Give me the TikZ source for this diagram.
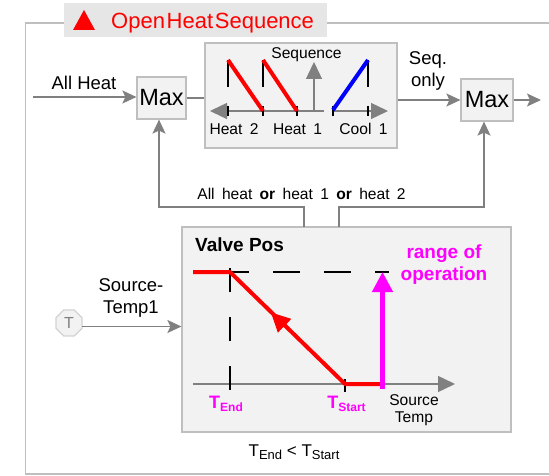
\documentclass[tikz,border=0pt]{standalone}
\usepackage{fontspec}
\setmainfont{Liberation Sans}
\usetikzlibrary{arrows.meta,shapes.geometric}
\definecolor{framegray}{HTML}{BFBFBF}
\definecolor{linegray}{HTML}{808080}
\definecolor{boxfill}{HTML}{F2F2F2}
\definecolor{titlefill}{HTML}{E6E6E6}
\definecolor{pink}{HTML}{FF00FF}
\newcommand{\fs}[1]{\fontsize{#1}{#1}\selectfont}
\tikzset{
  box/.style={rectangle,draw=framegray,fill=boxfill,line width=1.2pt,inner sep=0pt},
  maxbox/.style={box,minimum width=49pt,minimum height=42pt,font=\fs{23.5}},
  lbl/.style={inner sep=0pt,align=center,font=\fs{18.5},text=black},
  small/.style={inner sep=0pt,align=center,font=\fs{15.6},text=black},
  flow/.style={draw=linegray,line width=1.5pt,-{Stealth[length=14pt,width=13pt,inset=3pt]}},
  wire/.style={draw=linegray,line width=1.5pt},
  axis/.style={draw=linegray,line width=1.4pt,-{Triangle[length=17pt,width=16pt]}},
  tick/.style={draw=black,line width=1.1pt},
  trace/.style={line width=4pt,line join=round}
}
\begin{document}
\begin{tikzpicture}[x=1pt,y=-1pt]
\useasboundingbox (0,0) rectangle (549,476);
% outer frame
\draw[draw=framegray,line width=1.2pt] (549,23) -- (25.5,23) -- (25.5,474) -- (549,474);
\node[rectangle,fill=titlefill,minimum width=263pt,minimum height=34pt,inner sep=0pt] (title) at (195.5,20) {};
\fill[red] (73,30) -- (95,30) -- (84,10) -- cycle;
\node[inner sep=0pt,anchor=west,text=red,font=\fs{22}] (titletext) at (111,23) {Open\hspace{-4.4pt} Heat\hspace{-4.4pt} Sequence};
% top row
\node[maxbox] (maxa) at (161.5,98) {Max};
\node[box,minimum width=192pt,minimum height=105pt] (seq) at (301,95.5) {};
\node[maxbox,minimum width=52pt] (maxb) at (487,100) {Max};
\node[box,minimum width=329pt,minimum height=205pt] (valve) at (346.5,329.5) {};
\coordinate (heatin) at (33,97);
\coordinate (outend) at (541,100);
\coordinate (upa) at (159,207);
\coordinate (upb) at (484,207);
\coordinate (va) at (304,227);
\coordinate (vb) at (339,227);
\draw[flow] (heatin) -- (maxa.west |- heatin);
\draw[wire] (maxa.east) -- (seq.west |- maxa.east);
\draw[flow] (seq.east |- maxb.west) -- (maxb.west);
\draw[flow] (maxb.east) -- (outend);
\draw[flow] (va) |- (upa) -- (maxa.south -| upa);
\draw[flow] (vb) |- (upb) -- (maxb.south -| upb);
\node[lbl] (allheat) at (84,83) {All Heat};
\node[lbl] (seqonly) at (428,71) {Seq.\\[3pt]only};
\node[small] (heatnote) at (301.5,194) {All\hspace{3pt} heat\hspace{3pt} \textbf{or}\hspace{3pt} heat\hspace{3pt} 1\hspace{3pt} \textbf{or}\hspace{3pt} heat\hspace{3pt} 2};
% sequence chart
\draw[axis] (324,111) -- (210,111);
\draw[axis] (332,111) -- (388,111);
\draw[axis] (314,111) -- (314,62);
\foreach \xa in {228,263,368} \draw[tick] (\xa,60) -- (\xa,87);
\foreach \xa in {228,263,297,333,368} \draw[tick] (\xa,106) -- (\xa,116);
\draw[trace,red] (228,60) -- (263,111);
\draw[trace,red] (263,60) -- (297,111);
\draw[trace,blue] (333,110) -- (368,60);
\node[small] (seqlabel) at (306.5,54.5) {Sequence};
\node[small] (heat2) at (234,129) {Heat\hspace{3pt} 2};
\node[small] (heat1) at (297.5,129) {Heat\hspace{3pt} 1};
\node[small] (cool1) at (363.5,129) {Cool\hspace{3pt} 1};
% valve chart
\node[inner sep=0pt,anchor=west,font=\fs{19}\bfseries] (valvepos) at (195,245) {Valve Pos};
\draw[axis] (193,384) -- (455,384);
\draw[tick,dash pattern=on 27pt off 24pt] (222,272) -- (389,272);
\draw[tick,dash pattern=on 24pt off 25pt] (230,268) -- (230,392);
\draw[tick] (345,379) -- (345,392);
\draw[trace,red] (193,272) -- (230,272) -- (345,384) -- (383,384);
\draw[red,line width=1pt,-{Triangle[length=19pt,width=19pt]}] (292,333) -- (271,312.5);
\draw[pink,line width=4.5pt,-{Triangle[length=20pt,width=20pt]}] (382.5,389) -- (382.5,272);
\node[lbl,text=pink,font=\fs{19}\bfseries] (range) at (444,265) {range of\\[3pt]operation};
\node[inner sep=0pt,text=pink,font=\fs{18}\bfseries] (tend) at (226,404) {T\raisebox{-3pt}{\fs{12}End}};
\node[inner sep=0pt,text=pink,font=\fs{18}\bfseries] (tstart) at (346.5,404) {T\raisebox{-3pt}{\fs{12}Start}};
\node[small] (srctemp) at (414,410) {Source\\[1pt]Temp};
% source input
\node[regular polygon,regular polygon sides=8,draw=framegray!70,fill=boxfill,line width=1.2pt,minimum size=28pt,inner sep=0pt,text=linegray,font=\fs{16}] (sensor) at (69,323) {T};
\coordinate (srcin) at (82,326.5);
\draw[flow] (srcin) -- (valve.west |- srcin);
\node[lbl] (srclabel) at (131,298) {Source-\\[3pt]Temp1};
\node[inner sep=0pt,font=\fs{17}] (note) at (294,452) {T\raisebox{-3pt}{\fs{13}End} < T\raisebox{-3pt}{\fs{13}Start}};
\end{tikzpicture}
\end{document}
